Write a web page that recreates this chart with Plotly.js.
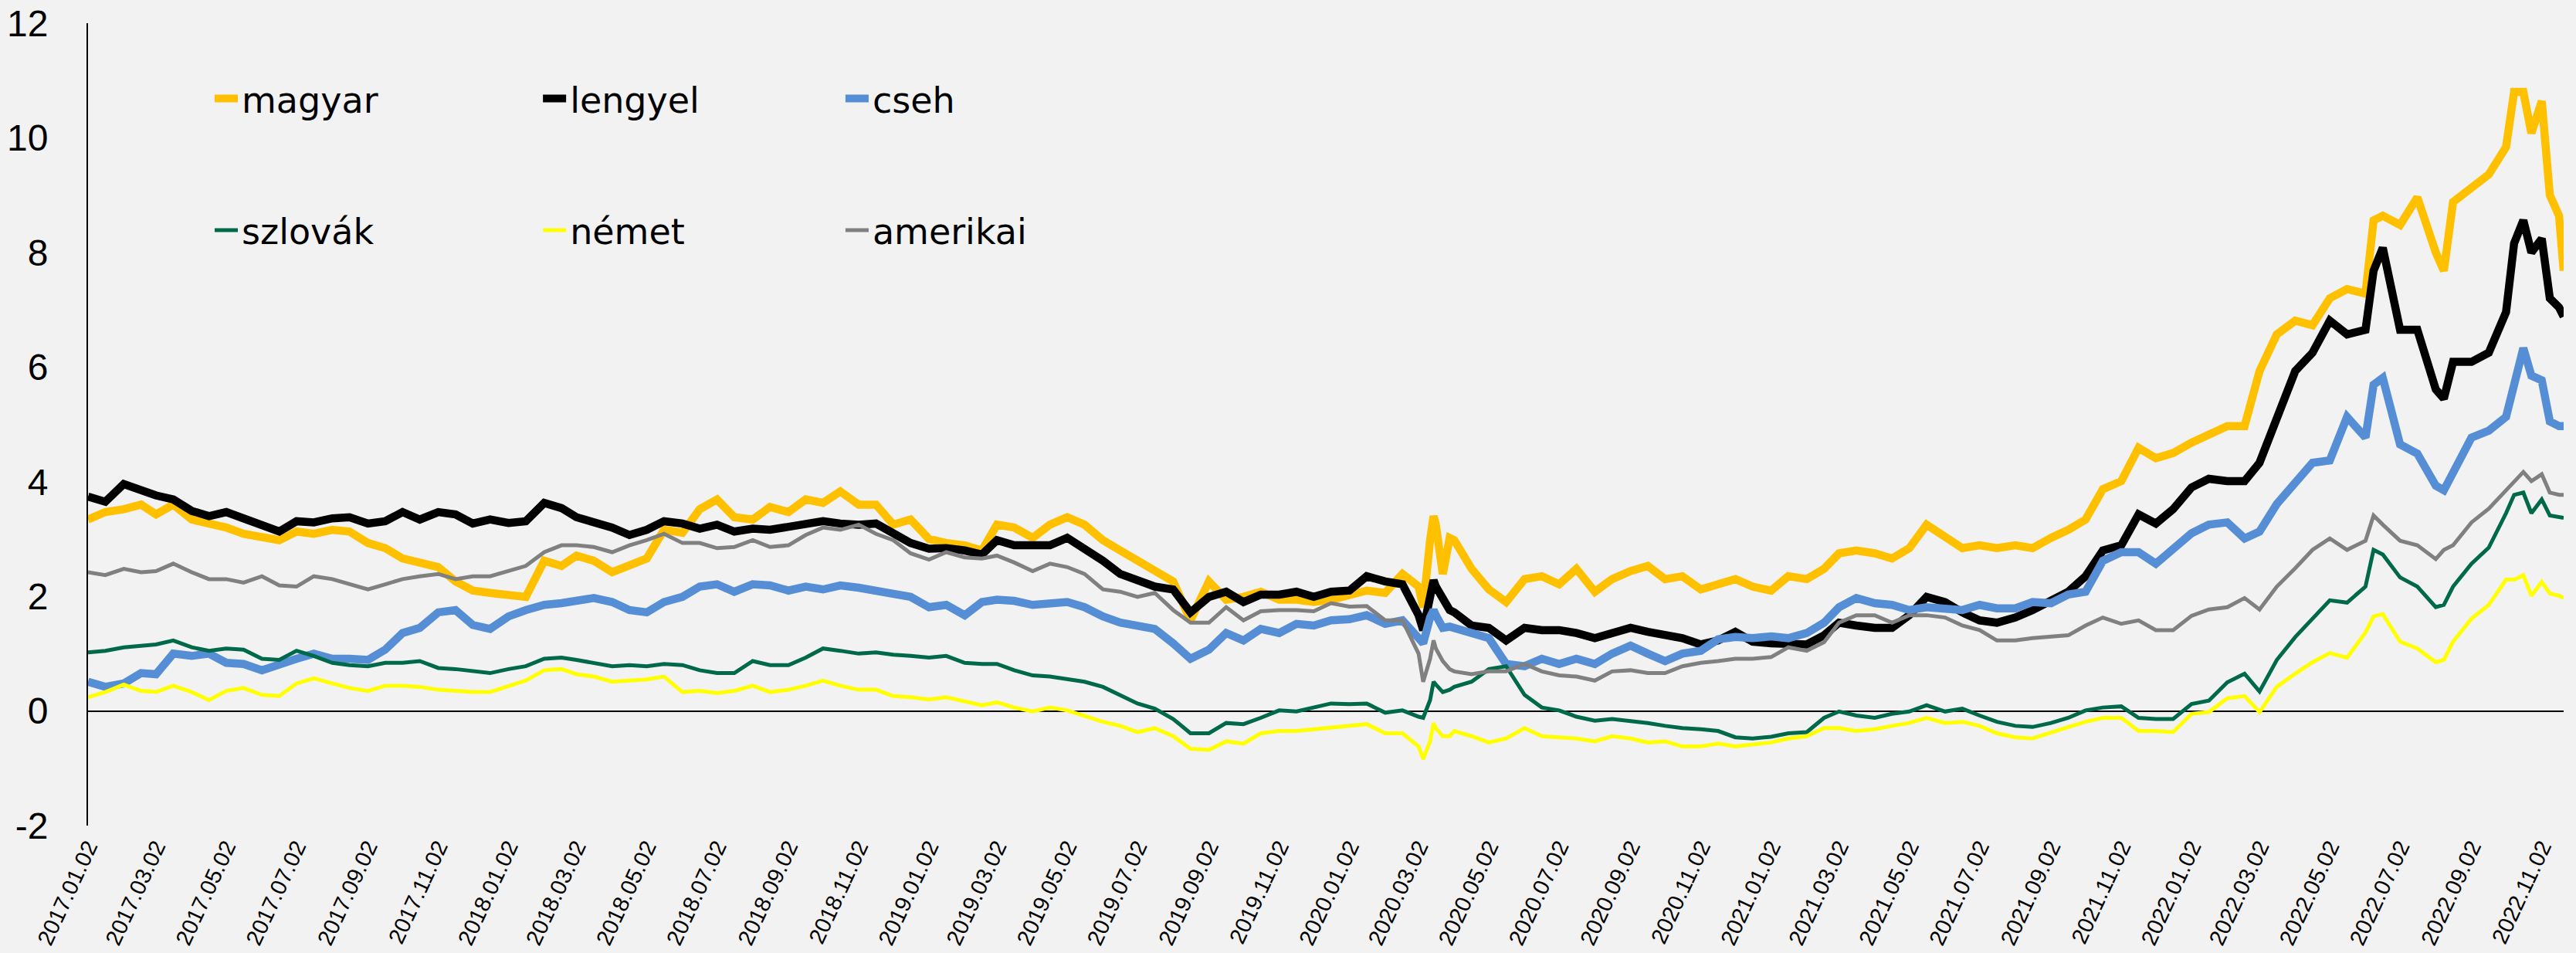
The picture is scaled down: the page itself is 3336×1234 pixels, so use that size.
<!DOCTYPE html>
<html><head><meta charset="utf-8">
<script src="https://cdn.plot.ly/plotly-3.0.1.min.js"></script>
<style>html,body{margin:0;padding:0;background:#F2F2F2}#chart{width:3336px;height:1234px}</style>
</head><body><div id="chart"></div>
<script>
const dates = [
 '2017-01-02','2017-01-17','2017-02-02','2017-02-17','2017-03-02','2017-03-17','2017-04-02','2017-04-17','2017-05-02','2017-05-17','2017-06-02','2017-06-17','2017-07-02','2017-07-17','2017-08-02','2017-08-17','2017-09-02','2017-09-17','2017-10-02','2017-10-17','2017-11-02','2017-11-17','2017-12-02','2017-12-17',
 '2018-01-02','2018-01-17','2018-02-02','2018-02-17','2018-03-02','2018-03-17','2018-04-02','2018-04-17','2018-05-02','2018-05-17','2018-06-02','2018-06-17','2018-07-02','2018-07-17','2018-08-02','2018-08-17','2018-09-02','2018-09-17','2018-10-02','2018-10-17','2018-11-02','2018-11-17','2018-12-02','2018-12-17',
 '2019-01-02','2019-01-17','2019-02-02','2019-02-17','2019-03-02','2019-03-17','2019-04-02','2019-04-17','2019-05-02','2019-05-17','2019-06-02','2019-06-17','2019-07-02','2019-07-17','2019-08-02','2019-08-17','2019-09-02','2019-09-17','2019-10-02','2019-10-17','2019-11-02','2019-11-17','2019-12-02','2019-12-17',
 '2020-01-02','2020-01-17','2020-02-02','2020-02-17','2020-03-02','2020-03-06','2020-03-12','2020-03-15','2020-03-17','2020-03-23','2020-03-29','2020-04-02','2020-04-17','2020-05-02','2020-05-17','2020-06-02','2020-06-17','2020-07-02','2020-07-17','2020-08-02','2020-08-17','2020-09-02','2020-09-17','2020-10-02','2020-10-17','2020-11-02','2020-11-17','2020-12-02','2020-12-17',
 '2021-01-02','2021-01-17','2021-02-02','2021-02-17','2021-03-02','2021-03-17','2021-04-02','2021-04-17','2021-05-02','2021-05-17','2021-06-02','2021-06-17','2021-07-02','2021-07-17','2021-08-02','2021-08-17','2021-09-02','2021-09-17','2021-10-02','2021-10-17','2021-11-02','2021-11-17','2021-12-02','2021-12-17',
 '2022-01-02','2022-01-17','2022-02-02','2022-02-17','2022-03-02','2022-03-17','2022-04-02','2022-04-17','2022-05-02','2022-05-17','2022-06-02','2022-06-09','2022-06-17','2022-07-02','2022-07-17','2022-08-02','2022-08-09','2022-08-17','2022-09-02','2022-09-17','2022-10-02','2022-10-09','2022-10-17','2022-10-24','2022-11-02','2022-11-09','2022-11-17','2022-11-21'
];

const magyar = [
 3.34,3.47,3.52,3.60,3.43,3.60,3.34,3.27,3.20,3.09,3.02,2.98,3.13,3.09,3.16,3.13,2.93,2.84,2.66,2.57,2.51,2.26,2.10,2.06,
 2.04,1.99,2.62,2.53,2.71,2.62,2.42,2.53,2.66,3.16,3.11,3.52,3.69,3.38,3.34,3.56,3.47,3.69,3.63,3.83,3.60,3.60,3.25,3.34,
 3.00,2.93,2.89,2.80,3.25,3.20,3.02,3.25,3.38,3.25,2.98,2.80,2.62,2.48,2.26,1.58,2.26,1.94,1.99,2.08,1.94,1.94,1.90,1.94,
 2.01,2.10,2.06,2.39,2.17,1.81,2.98,3.40,3.25,2.39,3.02,2.98,2.48,2.12,1.90,2.30,2.35,2.21,2.48,2.08,2.30,2.44,2.53,2.30,2.35,2.12,2.21,2.30,2.17,
 2.10,2.35,2.30,2.48,2.75,2.80,2.75,2.66,2.84,3.25,3.02,2.84,2.89,2.84,2.89,2.84,3.02,3.16,3.34,3.87,4.01,4.59,4.41,4.50,
 4.68,4.81,4.97,4.97,5.93,6.57,6.81,6.73,7.20,7.36,7.28,8.56,8.64,8.48,8.96,8.00,7.68,8.88,9.12,9.36,9.84,10.80,10.80,10.08,10.64,9.00,8.64,7.68
];
const lengyel = [
 3.74,3.65,3.96,3.85,3.76,3.69,3.49,3.40,3.47,3.36,3.25,3.13,3.31,3.29,3.36,3.38,3.27,3.31,3.47,3.34,3.47,3.43,3.27,3.34,
 3.28,3.31,3.63,3.54,3.38,3.31,3.20,3.07,3.16,3.31,3.27,3.18,3.25,3.13,3.18,3.16,3.22,3.25,3.31,3.27,3.25,3.27,3.11,2.93,
 2.83,2.84,2.80,2.73,2.98,2.89,2.89,2.89,3.02,2.84,2.62,2.39,2.28,2.17,2.12,1.72,1.99,2.08,1.90,2.03,2.03,2.08,1.99,2.08,
 2.10,2.35,2.26,2.21,1.67,1.41,1.99,2.28,2.17,1.94,1.76,1.72,1.49,1.45,1.23,1.45,1.41,1.41,1.36,1.27,1.36,1.45,1.38,1.34,1.27,1.16,1.23,1.38,1.21,
 1.18,1.18,1.16,1.32,1.54,1.49,1.45,1.45,1.67,1.99,1.90,1.72,1.58,1.54,1.63,1.76,1.94,2.08,2.35,2.80,2.89,3.43,3.27,3.52,
 3.90,4.05,4.01,4.01,4.33,5.13,5.93,6.25,6.81,6.57,6.65,7.68,8.08,6.65,6.65,5.61,5.45,6.09,6.09,6.25,6.96,8.16,8.56,8.00,8.24,7.20,7.04,6.88
];
const cseh = [
 0.51,0.42,0.48,0.66,0.64,1.00,0.96,1.00,0.84,0.82,0.71,0.82,0.91,1.00,0.91,0.91,0.89,1.07,1.36,1.45,1.72,1.76,1.50,1.43,
 1.65,1.76,1.85,1.88,1.92,1.97,1.90,1.76,1.72,1.90,1.99,2.17,2.21,2.08,2.21,2.19,2.10,2.17,2.12,2.19,2.15,2.10,2.06,1.99,
 1.81,1.85,1.67,1.90,1.94,1.92,1.85,1.88,1.90,1.81,1.65,1.54,1.47,1.43,1.18,0.91,1.07,1.36,1.23,1.43,1.36,1.52,1.49,1.58,
 1.60,1.67,1.52,1.58,1.27,1.18,1.63,1.76,1.67,1.45,1.47,1.45,1.36,1.27,0.82,0.78,0.91,0.82,0.91,0.82,1.00,1.14,1.00,0.87,1.00,1.05,1.25,1.29,1.27,
 1.30,1.27,1.36,1.54,1.81,1.97,1.88,1.85,1.76,1.81,1.79,1.76,1.85,1.79,1.79,1.90,1.88,2.03,2.08,2.62,2.77,2.77,2.57,2.84,
 3.10,3.25,3.29,3.01,3.13,3.61,4.01,4.33,4.37,5.13,4.77,5.69,5.81,4.65,4.49,3.93,3.85,4.17,4.77,4.89,5.13,5.69,6.33,5.85,5.77,5.05,4.97,4.97
];
const szlovak = [
 1.02,1.05,1.11,1.14,1.16,1.23,1.11,1.05,1.09,1.07,0.91,0.89,1.05,0.96,0.84,0.80,0.78,0.84,0.84,0.87,0.75,0.73,0.69,0.66,
 0.73,0.78,0.91,0.93,0.89,0.84,0.78,0.80,0.78,0.82,0.80,0.71,0.66,0.66,0.87,0.80,0.80,0.93,1.09,1.05,1.00,1.02,0.98,0.96,
 0.93,0.96,0.84,0.82,0.82,0.71,0.62,0.60,0.55,0.51,0.42,0.28,0.13,0.04,-0.14,-0.39,-0.39,-0.21,-0.23,-0.12,0.01,-0.01,0.06,0.13,
 0.12,0.13,-0.03,0.01,-0.10,-0.12,0.19,0.51,0.46,0.33,0.37,0.42,0.51,0.73,0.78,0.28,0.06,0.01,-0.10,-0.17,-0.14,-0.17,-0.21,-0.26,-0.30,-0.32,-0.35,-0.46,-0.48,
 -0.45,-0.39,-0.37,-0.12,-0.01,-0.08,-0.12,-0.05,-0.01,0.10,-0.01,0.04,-0.08,-0.19,-0.26,-0.28,-0.21,-0.12,0.01,0.06,0.08,-0.12,-0.14,-0.14,
 0.12,0.18,0.50,0.65,0.34,0.89,1.29,1.61,1.93,1.89,2.17,2.81,2.73,2.33,2.17,1.81,1.85,2.17,2.57,2.85,3.45,3.77,3.81,3.45,3.69,3.41,3.39,3.37
];
const nemet = [
 0.24,0.33,0.46,0.35,0.33,0.44,0.33,0.19,0.35,0.40,0.28,0.26,0.48,0.57,0.48,0.40,0.35,0.44,0.44,0.42,0.37,0.35,0.33,0.33,
 0.43,0.53,0.71,0.73,0.64,0.60,0.51,0.53,0.55,0.60,0.33,0.35,0.31,0.35,0.44,0.33,0.37,0.44,0.53,0.44,0.37,0.37,0.26,0.24,
 0.20,0.24,0.17,0.10,0.15,0.06,-0.01,0.06,0.01,-0.08,-0.19,-0.26,-0.37,-0.30,-0.44,-0.66,-0.68,-0.53,-0.57,-0.39,-0.35,-0.35,-0.32,-0.28,
 -0.25,-0.23,-0.39,-0.39,-0.62,-0.84,-0.53,-0.21,-0.30,-0.44,-0.44,-0.35,-0.44,-0.55,-0.48,-0.30,-0.44,-0.46,-0.48,-0.53,-0.44,-0.48,-0.55,-0.53,-0.62,-0.62,-0.57,-0.62,-0.59,
 -0.55,-0.48,-0.44,-0.30,-0.30,-0.35,-0.32,-0.26,-0.21,-0.12,-0.21,-0.19,-0.26,-0.39,-0.46,-0.48,-0.37,-0.28,-0.19,-0.12,-0.12,-0.35,-0.35,-0.37,
 -0.05,-0.02,0.22,0.26,-0.02,0.42,0.65,0.85,1.01,0.93,1.37,1.65,1.69,1.21,1.09,0.85,0.89,1.21,1.61,1.85,2.29,2.29,2.37,2.01,2.25,2.05,2.01,1.97
];
const amerikai = [
 2.42,2.37,2.48,2.42,2.44,2.57,2.42,2.30,2.30,2.24,2.35,2.19,2.17,2.35,2.30,2.21,2.12,2.21,2.30,2.35,2.39,2.30,2.35,2.35,
 2.44,2.53,2.77,2.89,2.89,2.86,2.77,2.89,2.98,3.09,2.93,2.93,2.84,2.86,2.98,2.86,2.89,3.07,3.20,3.16,3.25,3.09,2.98,2.75,
 2.64,2.77,2.68,2.66,2.71,2.59,2.44,2.57,2.51,2.39,2.12,2.08,1.99,2.06,1.76,1.54,1.54,1.81,1.58,1.74,1.76,1.76,1.74,1.88,
 1.82,1.83,1.58,1.58,1.00,0.51,0.91,1.23,1.09,0.87,0.73,0.69,0.64,0.69,0.69,0.82,0.69,0.62,0.60,0.53,0.69,0.71,0.66,0.66,0.78,0.84,0.87,0.91,0.91,
 0.94,1.11,1.05,1.20,1.54,1.67,1.67,1.54,1.67,1.67,1.63,1.49,1.41,1.23,1.23,1.27,1.29,1.32,1.49,1.63,1.52,1.58,1.41,1.41,
 1.66,1.77,1.81,1.97,1.77,2.17,2.49,2.81,3.01,2.81,2.97,3.41,3.25,2.97,2.89,2.65,2.81,2.89,3.29,3.53,3.85,4.01,4.17,4.01,4.13,3.81,3.77,3.77
];

const yTickVals = [-2, 0, 2, 4, 6, 8, 10, 12];
const yTickText = ['-2', '0', '2', '4', '6', '8', '10', '12'];

const seriesNames = ['magyar','lengyel','cseh','szlovák','német','amerikai'];
const seriesValues = [magyar, lengyel, cseh, szlovak, nemet, amerikai];
const seriesColors = ['#FFC000','#000000','#558ED5','#00694A','#FFFF00','#808080'];
const seriesWidths = [10.5, 10.5, 10.5, 5, 5, 5];
const legendIds = ['legend','legend2','legend3','legend4','legend5','legend6'];
const legendX = [0.0496, 0.1822, 0.3044, 0.0496, 0.1822, 0.3044];
const legendY = [0.906, 0.906, 0.906, 0.742, 0.742, 0.742];

const traces = seriesNames.map((n, i) => ({
  type: 'scatter', mode: 'lines', name: n, x: dates, y: seriesValues[i],
  line: {color: seriesColors[i], width: seriesWidths[i]},
  legend: legendIds[i], hoverinfo: 'skip'
}));

const FONT = 'Liberation Sans, Arial, sans-serif';
const LFONT = 'DejaVu Sans, Liberation Sans, sans-serif';

const layout = {
  width: 3336, height: 1234,
  paper_bgcolor: '#F2F2F2', plot_bgcolor: '#F2F2F2',
  margin: {l: 114, r: 16, t: 30, b: 165, pad: 0},
  font: {family: FONT, color: '#000'},
  showlegend: true,
  xaxis: {
    type: 'date', range: ['2017-01-02', '2022-11-21'],
    tick0: '2017-01-02', dtick: 'M2', tickformat: '%Y.%m.%d',
    tickangle: -65, tickfont: {family: FONT, size: 29, color: '#000'},
    showgrid: false, showline: false, zeroline: false, ticks: '',
    ticklabelstandoff: 4, fixedrange: true
  },
  yaxis: {
    range: [-2, 12], tickmode: 'array', tickvals: yTickVals, ticktext: yTickText,
    tickfont: {family: FONT, size: 48, color: '#000'},
    showgrid: false, showline: true, linecolor: '#000', linewidth: 2,
    zeroline: true, zerolinecolor: '#000', zerolinewidth: 2,
    ticks: '', ticklabelstandoff: 40, fixedrange: true
  }
};
legendIds.forEach((id, i) => {
  layout[id] = {
    orientation: 'h', xanchor: 'left', yanchor: 'middle',
    x: legendX[i], y: legendY[i],
    font: {family: LFONT, size: 46, color: '#000'},
    bgcolor: 'rgba(0,0,0,0)', borderwidth: 0
  };
});

Plotly.newPlot('chart', traces, layout, {staticPlot: true, displayModeBar: false});
</script></body></html>
